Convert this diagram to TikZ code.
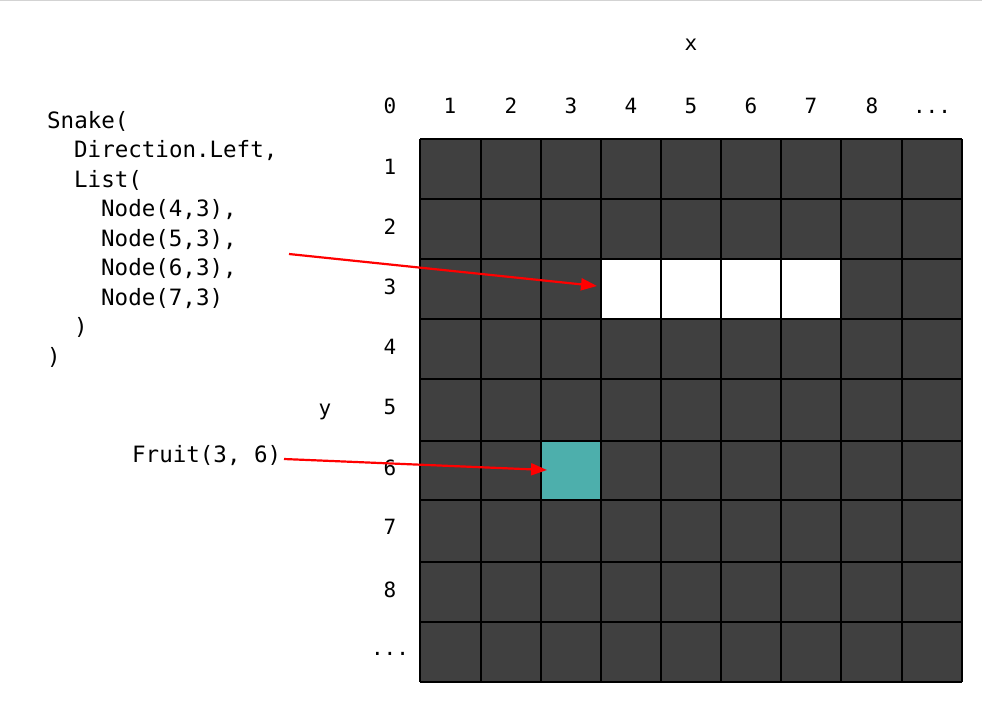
\documentclass[tikz,border=0pt]{standalone}
\usepackage{fontspec}
\setmonofont{DejaVu Sans Mono}
\usetikzlibrary{arrows.meta}
\definecolor{cellgray}{HTML}{404040}
\definecolor{fruitteal}{HTML}{4DAFAC}
\definecolor{topline}{HTML}{D3D3D3}
\definecolor{arrowred}{HTML}{FF0000}
\tikzset{
  codetxt/.style={anchor=base west, inner sep=0pt, font=\ttfamily\fontsize{22.5}{26}\selectfont},
  lbl/.style={anchor=base, inner sep=0pt, font=\ttfamily\fontsize{21}{24}\selectfont},
  gridline/.style={black, line width=1.1pt},
  pointer/.style={arrowred, line width=2.2pt, -{Triangle[length=16pt,width=12pt]}}
}
\begin{document}
\begin{tikzpicture}[x=1pt,y=-1pt]
\useasboundingbox (0,0) rectangle (982,702);
\fill[white] (0,0) rectangle (982,702);
\draw[topline, line width=1.2pt] (0,0.6) -- (982,0.6);

% grid cells
\fill[cellgray] (420,139) rectangle (962,682);
\fill[white] (601,259) rectangle (841,319);
\fill[fruitteal] (541,441) rectangle (601,500);
\foreach \gx in {420,481,541,601,661,721,781,841,902,962}
  \draw[gridline] (\gx,139) -- (\gx,682);
\foreach \gy in {139,199,259,319,379,441,500,562,622,682}
  \draw[gridline] (420,\gy) -- (962,\gy);

% axis names
\node[lbl] (xname) at (691,50) {x};
\node[lbl] (yname) at (325,415) {y};

% column labels
\node[lbl] (c0) at (390,113) {0};
\node[lbl] (c1) at (450,113) {1};
\node[lbl] (c2) at (511,113) {2};
\node[lbl] (c3) at (571,113) {3};
\node[lbl] (c4) at (631,113) {4};
\node[lbl] (c5) at (691,113) {5};
\node[lbl] (c6) at (751,113) {6};
\node[lbl] (c7) at (811,113) {7};
\node[lbl] (c8) at (872,113) {8};
\node[lbl] (cdots) at (932,113) {...};

% row labels
\node[lbl] (r1) at (390,174) {1};
\node[lbl] (r2) at (390,234) {2};
\node[lbl] (r3) at (390,294) {3};
\node[lbl] (r4) at (390,354) {4};
\node[lbl] (r5) at (390,414) {5};
\node[lbl] (r6) at (390,475) {6};
\node[lbl] (r7) at (390,534) {7};
\node[lbl] (r8) at (390,597) {8};
\node[lbl] (rdots) at (390,655) {...};

% code
\node[codetxt] (s1) at (47,128) {Snake(};
\node[codetxt] (s2) at (74,157.5) {Direction.Left,};
\node[codetxt] (s3) at (74,187) {List(};
\node[codetxt] (s4) at (101,216.5) {Node(4,3),};
\node[codetxt] (s5) at (101,246) {Node(5,3),};
\node[codetxt] (s6) at (101,275.5) {Node(6,3),};
\node[codetxt] (s7) at (101,305) {Node(7,3)};
\node[codetxt] (s8) at (74,334.5) {)};
\node[codetxt] (s9) at (47,364) {)};
\node[codetxt] (fruit) at (132,462) {Fruit(3, 6)};

% arrows
\coordinate (snakestart) at (289,254);
\coordinate (snakeend) at (597,286);
\coordinate (fruitstart) at (284,459);
\coordinate (fruitend) at (547,470);
\draw[pointer] (snakestart) -- (snakeend);
\draw[pointer] (fruitstart) -- (fruitend);
\end{tikzpicture}
\end{document}
